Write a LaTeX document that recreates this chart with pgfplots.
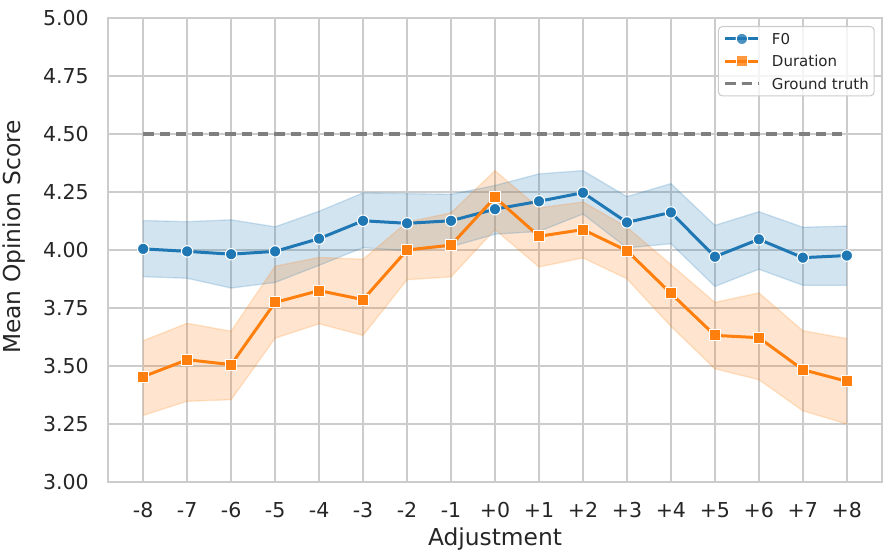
\documentclass[border=0pt]{standalone}
\usepackage{fontspec}
\setmainfont{DejaVu Sans}
\usepackage{pgfplots}
\usepackage{pgfplotstable}
\pgfplotsset{compat=1.18}
\usepgfplotslibrary{fillbetween}

\definecolor{f0blue}{HTML}{1F77B4}
\definecolor{duror}{HTML}{FF7F0E}
\definecolor{gridgray}{HTML}{CCCCCC}
\definecolor{txt}{HTML}{262626}
\definecolor{gtgray}{HTML}{7F7F7F}

\pgfplotstableread{
x mean lo hi
-8 4.005 3.885 4.127
-7 3.994 3.878 4.122
-6 3.982 3.836 4.130
-5 3.994 3.860 4.100
-4 4.049 3.934 4.167
-3 4.126 4.010 4.246
-2 4.115 3.997 4.243
-1 4.126 4.014 4.240
0 4.176 4.068 4.278
1 4.210 4.080 4.328
2 4.247 4.155 4.342
3 4.119 4.009 4.230
4 4.162 4.027 4.286
5 3.971 3.843 4.106
6 4.046 3.917 4.165
7 3.967 3.848 4.098
8 3.976 3.848 4.103
}\fzero

\pgfplotstableread{
x mean lo hi
-8 3.454 3.287 3.609
-7 3.527 3.348 3.684
-6 3.506 3.355 3.650
-5 3.774 3.620 3.930
-4 3.825 3.682 3.968
-3 3.786 3.632 3.960
-2 4.000 3.872 4.120
-1 4.021 3.884 4.160
0 4.227 4.088 4.342
1 4.059 3.927 4.181
2 4.088 3.966 4.207
3 3.997 3.876 4.098
4 3.813 3.671 3.937
5 3.632 3.488 3.774
6 3.622 3.441 3.815
7 3.484 3.307 3.652
8 3.434 3.250 3.618
}\dur

\begin{document}
\begin{tikzpicture}
\begin{axis}[
  at={(0,0)}, anchor=south west,
  scale only axis, width=580.5pt, height=348pt,
  xmin=-8.8, xmax=8.8, ymin=3, ymax=5,
  xtick={-8,...,8},
  xticklabels={-8,-7,-6,-5,-4,-3,-2,-1,+0,+1,+2,+3,+4,+5,+6,+7,+8},
  ytick={3,3.25,3.5,3.75,4,4.25,4.5,4.75,5},
  y tick label style={/pgf/number format/fixed, /pgf/number format/fixed zerofill, /pgf/number format/precision=2},
  /pgf/number format/assume math mode=true,
  major tick length=0pt,
  grid=major,
  grid style={gridgray, line width=1.2pt},
  axis line style={gridgray, line width=1.4pt},
  tick label style={font=\fontsize{15.4}{18}\selectfont, text=txt},
  yticklabel style={inner sep=0pt, anchor=east, xshift=-14.25pt},
  xticklabel style={inner sep=0pt, anchor=north, yshift=-15pt},
  xlabel={Adjustment},
  ylabel={Mean Opinion Score},
  label style={font=\fontsize{17.5}{20}\selectfont, text=txt},
  xlabel style={at={(axis description cs:0.5,0)}, anchor=base, yshift=-48pt, inner sep=0pt},
  ylabel style={at={(axis description cs:0,0.528)}, anchor=base, yshift=65.5pt, inner sep=0pt},
  legend cell align=left,
  legend image code/.code={\draw[mark repeat=2, mark phase=2] plot coordinates {(0pt,0pt) (12.4pt,0pt) (24.75pt,0pt)};},
  legend style={at={(0.9906,0.9828)}, anchor=north east,
    draw=gridgray, line width=0.8pt, rounded corners=3pt,
    fill=white, fill opacity=0.8, text opacity=1,
    font=\fontsize{11.25}{13}\selectfont, text=txt,
    inner xsep=4pt, inner ysep=5pt, row sep=8.4pt,
    nodes={inner sep=0pt, text height=8.3pt, text depth=0pt},
    /tikz/every odd column/.append style={column sep=9pt}},
]
% F0 band
\addplot[name path=f0hi, draw=f0blue, draw opacity=0.2, line width=1pt, forget plot] table[x=x,y=hi]{\fzero};
\addplot[name path=f0lo, draw=f0blue, draw opacity=0.2, line width=1pt, forget plot] table[x=x,y=lo]{\fzero};
\addplot[f0blue, fill opacity=0.2, draw=none, forget plot] fill between[of=f0hi and f0lo];
\addplot[f0blue, line width=2.25pt, mark=*, mark size=4.3pt,
  mark options={fill=f0blue, draw=white, line width=0.8pt}] table[x=x,y=mean]{\fzero};
\addlegendentry{F0}
% Duration band
\addplot[name path=duhi, draw=duror, draw opacity=0.2, line width=1pt, forget plot] table[x=x,y=hi]{\dur};
\addplot[name path=dulo, draw=duror, draw opacity=0.2, line width=1pt, forget plot] table[x=x,y=lo]{\dur};
\addplot[duror, fill opacity=0.2, draw=none, forget plot] fill between[of=duhi and dulo];
\addplot[duror, line width=2.25pt, mark=square*, mark size=4.1pt,
  mark options={fill=duror, draw=white, line width=0.8pt}] table[x=x,y=mean]{\dur};
\addlegendentry{Duration}
% Ground truth
\addplot[gtgray, line width=2.4pt, dash pattern=on 7.8pt off 4.5pt] coordinates {(-8,4.5) (8,4.5)};
\addlegendentry{Ground truth}
\end{axis}
\pgfresetboundingbox
\useasboundingbox (-81pt,-58.5pt) rectangle (588.75pt,361.5pt);
\end{tikzpicture}
\end{document}
